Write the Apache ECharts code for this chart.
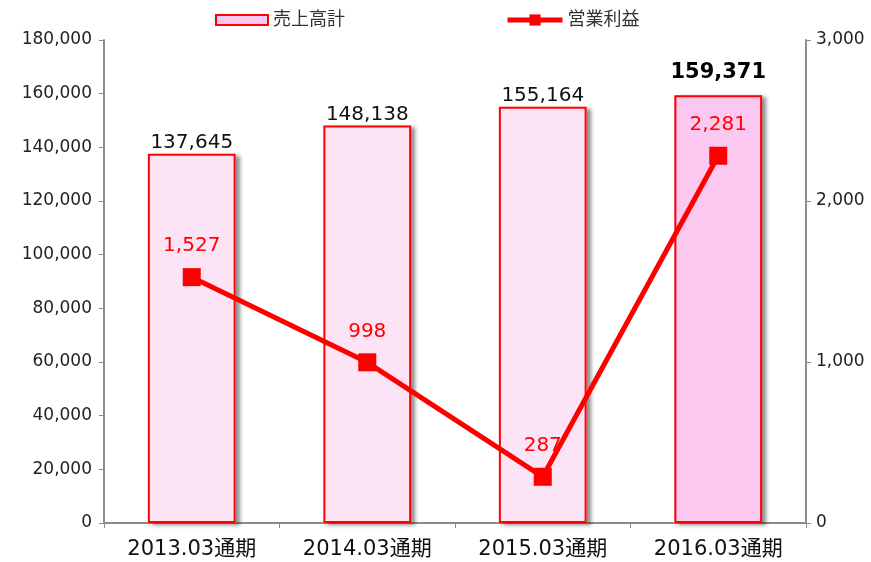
<!DOCTYPE html>
<html>
<head>
<meta charset="utf-8">
<script src="https://cdn.jsdelivr.net/npm/echarts@6/dist/echarts.min.js"></script>
<style>
  html, body { margin: 0; padding: 0; background: #fff; }
  #chart { width: 871px; height: 562px; }
</style>
</head>
<body>
<div id="chart"></div>
<script>
const categories = ['2013.03通期', '2014.03通期', '2015.03通期', '2016.03通期'];
const sales = [137645, 148138, 155164, 159371];
const profit = [1527, 998, 287, 2281];

const font = '"DejaVu Sans", "Noto Sans CJK JP", sans-serif';
const axisGray = '#8c8c8c';

function fmt(v) { return v.toLocaleString('en-US'); }

const chart = echarts.init(document.getElementById('chart'));

// fill colour per bar, last year highlighted
function barFill(i) { return i === sales.length - 1 ? '#fcc8f0' : '#fce4f6'; }

const barData = sales.map(function (v, i) {
    const last = i === sales.length - 1;
    return {
        value: v,
        itemStyle: {color: barFill(i)},
        label: last ? {fontSize: 21, fontWeight: 'bold', color: '#000', distance: 12} : {}
    };
});

// same bars again, only to cast the drop shadow behind the bordered ones
const shadowData = sales.map(function (v, i) {
    return {value: v, itemStyle: {color: barFill(i)}};
});

chart.setOption({
    animation: false,
    textStyle: {fontFamily: font},
    legend: [
        {
            left: 210, top: 6, itemWidth: 52, itemHeight: 10, itemGap: 6,
            icon: 'rect',
            data: ['売上高計'],
            textStyle: {fontSize: 18, color: '#333', fontFamily: font}
        },
        {
            left: 500, top: 6, itemWidth: 55, itemHeight: 14, itemGap: 6,
            data: ['営業利益'],
            lineStyle: {width: 5},
            textStyle: {fontSize: 18, color: '#333', fontFamily: font}
        }
    ],
    grid: {left: 104, right: 65, top: 40, bottom: 39},
    xAxis: {
        type: 'category',
        data: categories,
        axisLine: {lineStyle: {color: axisGray, width: 2}},
        axisTick: {show: true, length: 5, lineStyle: {color: axisGray}},
        axisLabel: {fontSize: 21, color: '#111', margin: 16, fontFamily: font}
    },
    yAxis: [
        {
            type: 'value', min: 0, max: 180000, interval: 20000,
            axisLine: {show: true, lineStyle: {color: axisGray, width: 2}},
            axisTick: {show: true, length: 5, lineStyle: {color: axisGray}},
            splitLine: {show: false},
            axisLabel: {fontSize: 17, color: '#222', margin: 12, fontFamily: font, formatter: fmt}
        },
        {
            type: 'value', min: 0, max: 3000, interval: 1000,
            axisLine: {show: true, lineStyle: {color: axisGray, width: 2}},
            axisTick: {show: true, length: 5, lineStyle: {color: axisGray}},
            splitLine: {show: false},
            axisLabel: {fontSize: 17, color: '#222', margin: 10, fontFamily: font, formatter: fmt}
        }
    ],
    series: [
        {
            name: 'shadow',
            type: 'bar',
            yAxisIndex: 0,
            barWidth: '50%',
            data: shadowData,
            silent: true,
            itemStyle: {
                shadowColor: 'rgba(0,0,0,0.45)',
                shadowBlur: 4,
                shadowOffsetX: 4,
                shadowOffsetY: 2
            },
            z: 1
        },
        {
            name: '売上高計',
            type: 'bar',
            yAxisIndex: 0,
            barWidth: '50%',
            barGap: '-100%',
            data: barData,
            itemStyle: {
                color: '#fcc8f0',
                borderColor: '#ff0000',
                borderWidth: 2
            },
            label: {
                show: true,
                position: 'top',
                distance: 1,
                fontSize: 20,
                color: '#111',
                fontFamily: font,
                formatter: function (p) { return fmt(p.value); }
            },
            z: 2
        },
        {
            name: '営業利益',
            type: 'line',
            yAxisIndex: 1,
            data: profit,
            symbol: 'rect',
            symbolSize: 18,
            lineStyle: {color: '#ff0000', width: 5},
            itemStyle: {color: '#ff0000'},
            label: {
                show: true,
                position: 'top',
                distance: 12,
                fontSize: 20,
                color: '#ff0000',
                fontFamily: font,
                formatter: function (p) { return fmt(p.value); }
            },
            z: 5
        }
    ]
});
</script>
</body>
</html>
